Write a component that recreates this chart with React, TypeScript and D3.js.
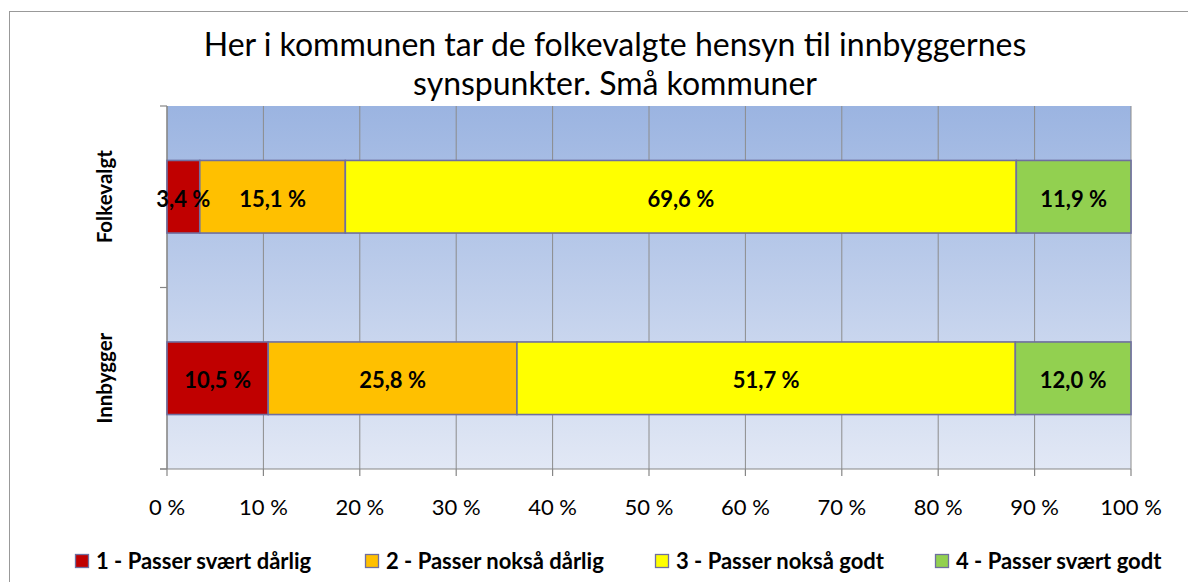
import React from 'react';
import * as d3 from 'd3';

const categories = ['Folkevalgt', 'Innbygger'];
const seriesNames = [
    '1 - Passer svært dårlig',
    '2 - Passer nokså dårlig',
    '3 - Passer nokså godt',
    '4 - Passer svært godt',
];
const seriesColors = ['#c00000', '#ffc000', '#ffff00', '#92d050'];
const folkevalgt = [3.4, 15.1, 69.6, 11.9];
const innbygger = [10.5, 25.8, 51.7, 12.0];
const xTicks = [0, 10, 20, 30, 40, 50, 60, 70, 80, 90, 100];
const titleLines = ['Her i kommunen tar de folkevalgte hensyn til innbyggernes', 'synspunkter. Små kommuner'];

const width = 1188;
const height = 582;
const margin = { top: 106, right: 57, bottom: 113, left: 167 };
const font = 'Lato, "Open Sans", sans-serif';

const App = () => {
    const values = [folkevalgt, innbygger];

    const x = d3.scaleLinear()
        .domain([0, 100])
        .range([margin.left, width - margin.right]);

    const y = d3.scaleBand()
        .domain(categories)
        .range([margin.top, height - margin.bottom])
        .paddingInner(0.6)
        .paddingOuter(0.3);

    const stacks = categories.map((c, i) => {
        let acc = 0;
        return values[i].map((v, k) => {
            const seg = { cat: c, k, v, x0: acc, x1: acc + v };
            acc += v;
            return seg;
        });
    });

    const fmt = (v) => d3.format('.1f')(v).replace('.', ',') + ' %';

    const plotBottom = height - margin.bottom;
    // boundary between the two categories
    const mid = (y(categories[0]) + y.bandwidth() + y(categories[1])) / 2;
    const yTickPos = [margin.top, mid, plotBottom];

    const legendX = [75, 365, 655, 935];

    return (
        <svg width={width} height={height} style={{ position: 'absolute', left: 0, top: 0, background: '#fff' }}>
            <defs>
                <linearGradient id="bg" x1="0" y1="0" x2="0" y2="1">
                    <stop offset="0%" stopColor="#9bb4e1" />
                    <stop offset="100%" stopColor="#e2e8f5" />
                </linearGradient>
            </defs>
            <rect x={9.5} y={11.5} width={1190} height={600} fill="#fff" stroke="#999" strokeWidth={1} />

            <text x={615} y={56} textAnchor="middle" fontFamily={font} fontSize={32} fill="#000">{titleLines[0]}</text>
            <text x={615} y={95} textAnchor="middle" fontFamily={font} fontSize={32} fill="#000">{titleLines[1]}</text>

            <rect x={margin.left} y={margin.top} width={x(100) - x(0)} height={plotBottom - margin.top} fill="url(#bg)" />

            {xTicks.map(t => (
                <line key={t} x1={x(t)} x2={x(t)} y1={margin.top} y2={plotBottom} stroke="#8c8c8c" strokeWidth={1} />
            ))}

            {/* axes */}
            <line x1={margin.left} x2={margin.left} y1={margin.top} y2={plotBottom} stroke="#868686" strokeWidth={1.2} />
            <line x1={margin.left - 7} x2={x(100)} y1={plotBottom} y2={plotBottom} stroke="#868686" strokeWidth={1.2} />
            {yTickPos.map((p, i) => (
                <line key={i} x1={margin.left - 7} x2={margin.left} y1={p} y2={p} stroke="#868686" strokeWidth={1.2} />
            ))}
            {xTicks.map(t => (
                <g key={t}>
                    <line x1={x(t)} x2={x(t)} y1={plotBottom} y2={plotBottom + 7} stroke="#868686" strokeWidth={1.2} />
                    <text x={x(t)} y={515} textAnchor="middle" fontFamily={font} fontSize={22} fill="#000">{t + ' %'}</text>
                </g>
            ))}

            {stacks.map((segs, i) => segs.map(s => (
                <rect key={i + '-' + s.k} x={x(s.x0)} y={y(s.cat)} width={x(s.x1) - x(s.x0)} height={y.bandwidth()}
                    fill={seriesColors[s.k]} stroke="#6f6fa0" strokeWidth={1.6} />
            )))}
            {stacks.map((segs, i) => segs.map(s => (
                <text key={'l' + i + '-' + s.k} x={x((s.x0 + s.x1) / 2)} y={y(s.cat) + y.bandwidth() / 2 + 10}
                    textAnchor="middle" fontFamily={font} fontWeight="bold" fontSize={22} fill="#000">{fmt(s.v)}</text>
            )))}

            {categories.map(c => (
                <text key={c} transform={`translate(112,${y(c) + y.bandwidth() / 2}) rotate(-90)`} textAnchor="middle"
                    fontFamily={font} fontWeight="bold" fontSize={20.5} fill="#000">{c}</text>
            ))}

            {seriesNames.map((n, k) => (
                <g key={n}>
                    <rect x={legendX[k] + 0.5} y={554.5} width={13} height={13} fill={seriesColors[k]} stroke="#6f6fa0" strokeWidth={1.3} />
                    <text x={legendX[k] + 21} y={569} fontFamily={font} fontWeight="bold" fontSize={22} fill="#000">{n}</text>
                </g>
            ))}
        </svg>
    );
};

export default App;
